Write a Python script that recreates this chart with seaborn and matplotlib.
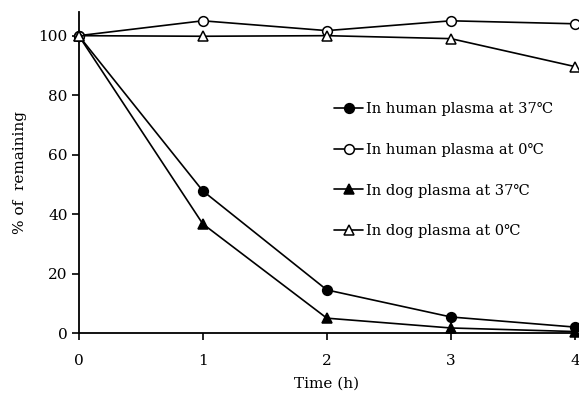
import matplotlib
matplotlib.use("Agg")
import matplotlib.pyplot as plt
import seaborn as sns
import pandas as pd
from matplotlib.lines import Line2D

time_h = [0, 1, 2, 3, 4]
human_37 = [100, 47.8, 14.5, 5.4, 2.0]
human_0 = [100, 105.0, 101.7, 105.0, 104.0]
dog_37 = [100, 36.7, 5.0, 1.7, 0.5]
dog_0 = [100, 99.8, 100.0, 99.0, 89.6]
labels = ["In human plasma at 37\u2103", "In human plasma at 0\u2103",
          "In dog plasma at 37\u2103", "In dog plasma at 0\u2103"]

sns.set_theme(style="ticks")
plt.rcParams["font.family"] = ["DejaVu Serif", "DejaVu Sans"]
plt.rcParams["text.color"] = "black"
plt.rcParams["axes.labelcolor"] = "black"

fig = plt.figure(figsize=(5.79, 3.96), dpi=100)
ax = fig.add_axes([0.136, 0.159, 0.857, 0.811])

series = [human_37, human_0, dog_37, dog_0]
markers = ["o", "o", "^", "^"]
faces = ["black", "white", "black", "white"]
handles = []
for vals, m, fc, lab in zip(series, markers, faces, labels):
    df = pd.DataFrame({"t": time_h, "v": vals})
    sns.lineplot(data=df, x="t", y="v", ax=ax, color="black", linewidth=1.2,
                 marker=m, markersize=7, markerfacecolor=fc,
                 markeredgecolor="black", markeredgewidth=1.1, clip_on=False, zorder=3)
    handles.append(Line2D([0], [0], color="black", linewidth=1.2, marker=m,
                          markersize=7, markerfacecolor=fc, markeredgecolor="black",
                          markeredgewidth=1.1, label=lab))

ax.set_xlim(0, 4)
ax.set_ylim(0, 108)
ax.set_xticks(time_h)
ax.set_yticks([0, 20, 40, 60, 80, 100])
for s in ["top", "right"]:
    ax.spines[s].set_visible(False)
for s in ["left", "bottom"]:
    ax.spines[s].set_color("black")
    ax.spines[s].set_linewidth(1.3)
ax.tick_params(axis="x", direction="out", length=5, width=1.2, pad=10, labelsize=11, colors="black")
ax.tick_params(axis="y", direction="out", length=5, width=1.2, pad=3, labelsize=11, colors="black")
ax.set_xlabel("Time (h)", fontsize=11, labelpad=6)
ax.set_ylabel("% of  remaining", fontsize=11, labelpad=8)

ax.legend(handles=handles, loc="upper left", bbox_to_anchor=(0.515, 0.718),
          frameon=False, fontsize=10.5, labelspacing=1.82, handlelength=2.0,
          handletextpad=0.15, borderaxespad=0, borderpad=0)

fig.savefig("out.png", dpi=100)
